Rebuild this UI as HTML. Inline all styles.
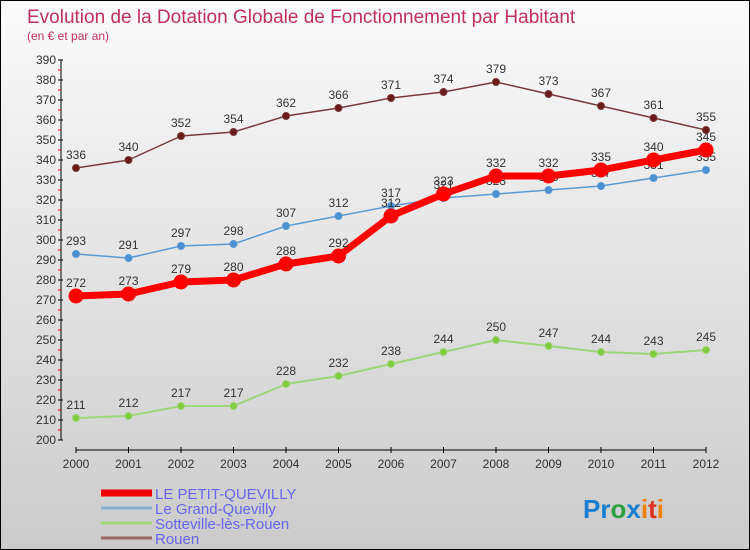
<!DOCTYPE html>
<html><head><meta charset="utf-8"><style>
body{margin:0}
#c{width:750px;height:550px;position:relative;box-sizing:border-box;border:1px solid #000;background:linear-gradient(#fbfbfb,#cbcbcb);font-family:"Liberation Sans",sans-serif;overflow:hidden}
</style></head><body>
<div id="c">
<svg id="s" width="748" height="548" style="position:absolute;left:0;top:0"></svg>
</div>
<script>
const years=[2000,2001,2002,2003,2004,2005,2006,2007,2008,2009,2010,2011,2012];
const petit=[272,273,279,280,288,292,312,323,332,332,335,340,345];
const grand=[293,291,297,298,307,312,317,321,323,325,327,331,335];
const sotte=[211,212,217,217,228,232,238,244,250,247,244,243,245];
const rouen=[336,340,352,354,362,366,371,374,379,373,367,361,355];
const yTicks=[200,210,220,230,240,250,260,270,280,290,300,310,320,330,340,350,360,370,380,390];
const NS='http://www.w3.org/2000/svg';
const s=document.getElementById('s');
const X=i=>75+i*52.5, Y=v=>439-(v-200)*2;
function mk(t,a,p){const e=document.createElementNS(NS,t);for(const k in a)e.setAttribute(k,a[k]);(p||s).appendChild(e);return e;}
let t=mk('text',{x:26,y:22,fill:'#c0305a','font-size':19});t.textContent='Evolution de la Dotation Globale de Fonctionnement par Habitant';

t=mk('text',{x:26,y:39,fill:'#c0305a','font-size':12});t.textContent='(en € et par an)';

let ya=mk('line',{x1:60,y1:59,x2:60,y2:439,stroke:'#000'});

yTicks.forEach(v=>{mk('line',{x1:57,x2:62,y1:Y(v),y2:Y(v),stroke:'#000'});
 if(v<390)mk('line',{x1:57,x2:60,y1:Y(v+5),y2:Y(v+5),stroke:'#e00'});
 const l=mk('text',{x:55,y:Y(v)+4,'text-anchor':'end','font-size':12,fill:'#333'});l.textContent=v;
 });
let xa=mk('line',{x1:75,y1:449,x2:705,y2:449,stroke:'#000'});

years.forEach((y,i)=>{mk('line',{x1:X(i),x2:X(i),y1:446,y2:452,stroke:'#000'});
 const l=mk('text',{x:X(i),y:467,'text-anchor':'middle','font-size':12,fill:'#333'});l.textContent=y;
 });
function series(d,col,w,r,fill,name){
 const g=mk('g',{});
 mk('polyline',{points:d.map((v,i)=>X(i)+','+Y(v)).join(' '),fill:'none',stroke:col,'stroke-width':w,'stroke-linejoin':'round'},g);
 d.forEach((v,i)=>{const c=mk('circle',{cx:X(i),cy:Y(v),r:r,fill:fill,stroke:col,'stroke-width':1},g);
  
  const l=mk('text',{x:X(i),y:Y(v)-9,'text-anchor':'middle','font-size':12,fill:'#333'},g);l.textContent=v;});
}
series(sotte,'#9ed47a',2,3.5,'#7fcc3c','series-sotteville');
series(grand,'#5a9bd5',1.5,3.5,'#4b90d0','series-grand-quevilly');
series(rouen,'#7a3a3a',1.5,3.5,'#6a1a1a','series-rouen');
series(petit,'#f00',7,7,'#f00','series-petit-quevilly');
const leg=[['LE PETIT-QUEVILLY','#e00',7],['Le Grand-Quevilly','#88b0d0',3],['Sotteville-lès-Rouen','#a0d878',3],['Rouen','#9a6868',3]];
leg.forEach((l,i)=>{const g=mk('g',{});
 const y=493+i*15;mk('line',{x1:100,x2:151,y1:y-1,y2:y-1,stroke:l[1],'stroke-width':l[2]},g);
 const t=mk('text',{x:154,y:y+5,'font-size':15,fill:'#6666ee'},g);t.textContent=l[0];});
const p=mk('text',{x:582,y:517,'font-size':26,'font-weight':'bold'});
[['Pr','#1a7fd0'],['o','#2aa040'],['x','#1a7fd0'],['i','#f08000'],['t','#e03020'],['i','#f08000']].forEach(a=>{const ts=mk('tspan',{fill:a[1]},p);ts.textContent=a[0];});
</script>
</body></html>
